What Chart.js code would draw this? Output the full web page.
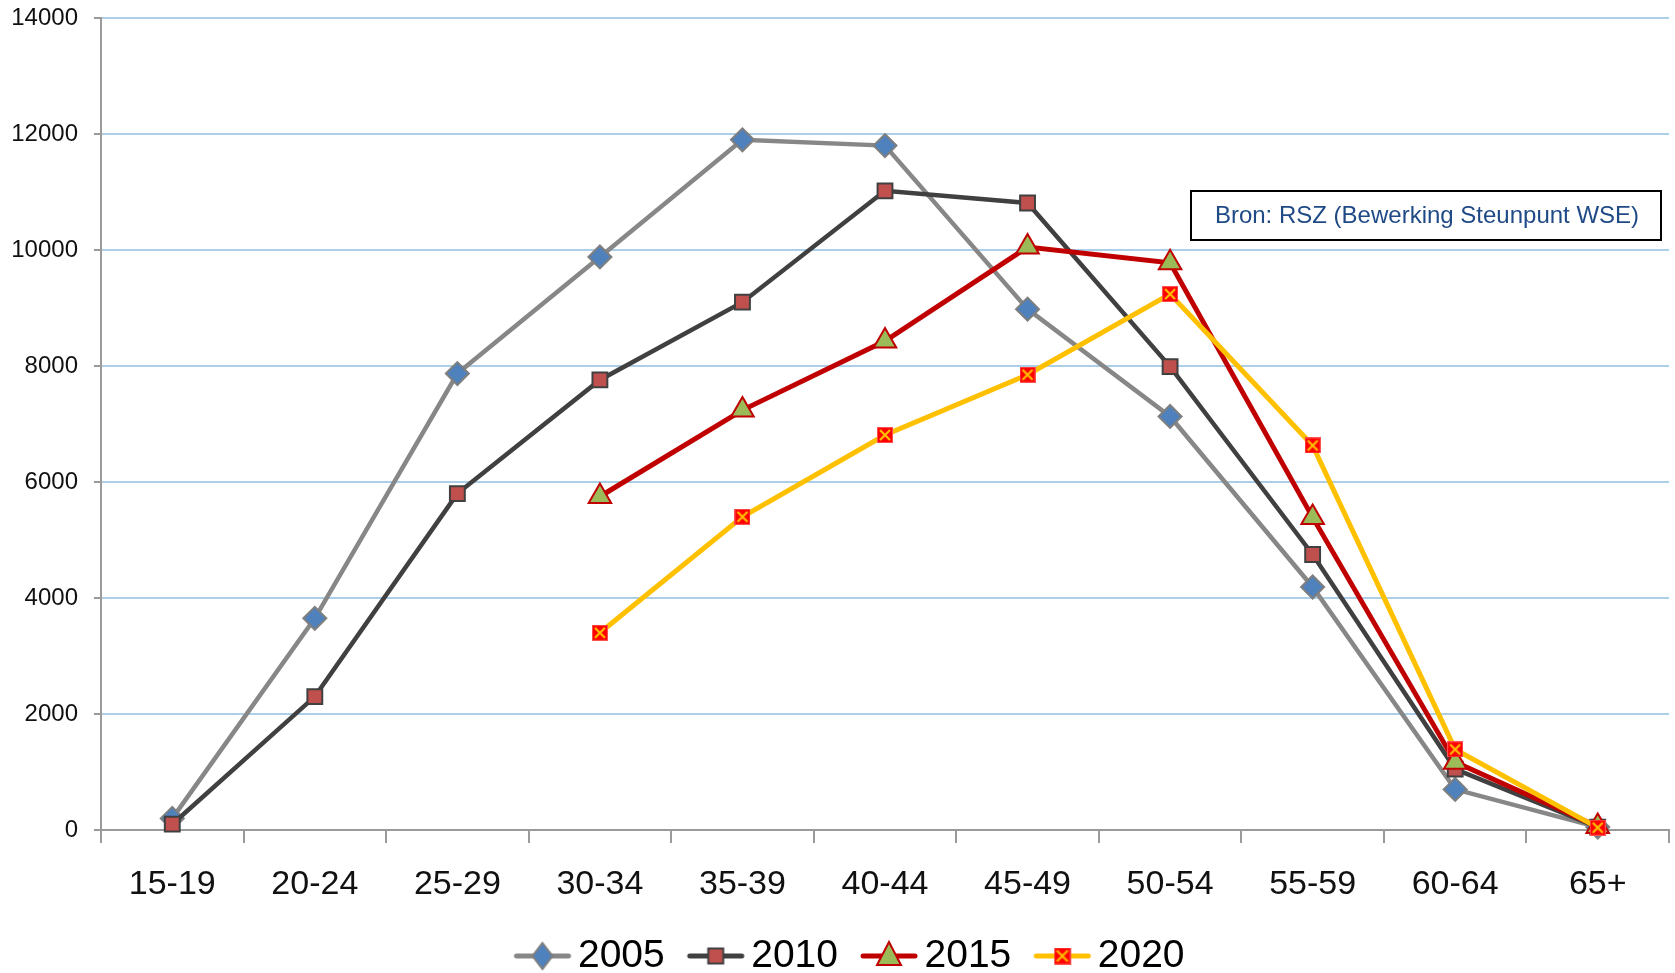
<!DOCTYPE html>
<html>
<head>
<meta charset="utf-8">
<script src="https://cdn.jsdelivr.net/npm/chart.js@4/dist/chart.umd.min.js"></script>
<style>
    body { margin: 0; background: #fff; }
    #wrap { width: 1675px; height: 973px; position: relative; }
</style>
</head>
<body>
<div id="wrap"><canvas id="leeftijdChart"></canvas></div>
<script>
// leeftijdsgroepen en waarden per jaar
const ageGroups = ['15-19', '20-24', '25-29', '30-34', '35-39', '40-44', '45-49', '50-54', '55-59', '60-64', '65+'];
const years = ['2005', '2010', '2015', '2020'];
const values2005 = [200, 3650, 7870, 9880, 11900, 11800, 8980, 7130, 4190, 700, 50];
const values2010 = [100, 2300, 5800, 7760, 9100, 11020, 10810, 7990, 4750, 1050, 50];
const values2015 = [null, null, null, 5750, 7240, 8430, 10050, 9780, 5390, 1170, 60];
const values2020 = [null, null, null, 3400, 5400, 6810, 7850, 9240, 6630, 1390, 40];
const yTicks = [0, 2000, 4000, 6000, 8000, 10000, 12000, 14000];
const bronText = 'Bron: RSZ (Bewerking Steunpunt WSE)';

const FONT = "'Liberation Sans', Arial, sans-serif";

// rood vierkantje met geel kruis (marker 2020)
function crossSquare(size) {
    const c = document.createElement('canvas');
    c.width = size; c.height = size;
    const g = c.getContext('2d');
    g.fillStyle = '#ff0000';
    g.fillRect(0, 0, size, size);
    g.strokeStyle = '#ff5050';
    g.lineWidth = 1;
    g.strokeRect(0.5, 0.5, size - 1, size - 1);
    g.strokeStyle = '#ffc000';
    g.lineWidth = 2.2;
    g.beginPath();
    g.moveTo(3, 3); g.lineTo(size - 3, size - 3);
    g.moveTo(size - 3, 3); g.lineTo(3, size - 3);
    g.stroke();
    return c;
}

function drawMarker(g, type, x, y, fill, border) {
    g.fillStyle = fill;
    g.strokeStyle = border;
    g.lineWidth = 2;
    g.beginPath();
    if (type === 'diamond') {
        g.moveTo(x, y - 13); g.lineTo(x + 10, y); g.lineTo(x, y + 13); g.lineTo(x - 10, y);
        g.closePath(); g.fill(); g.stroke();
    } else if (type === 'square') {
        g.rect(x - 7.5, y - 7.5, 15, 15); g.fill(); g.stroke();
    } else if (type === 'triangle') {
        g.moveTo(x, y - 14); g.lineTo(x + 12, y + 9); g.lineTo(x - 12, y + 9);
        g.closePath(); g.fill(); g.stroke();
    } else {
        g.drawImage(crossSquare(17), x - 8.5, y - 8.5);
    }
}

// legende-icoon: lijnstuk met marker
function legendIcon(lineColor, type, fill, border) {
    const c = document.createElement('canvas');
    c.width = 90; c.height = 36;
    const g = c.getContext('2d');
    g.strokeStyle = lineColor;
    g.lineWidth = 5;
    g.lineCap = 'round';
    g.beginPath();
    g.moveTo(34, 18); g.lineTo(86, 18);
    g.stroke();
    drawMarker(g, type, 60, 18, fill, border);
    return c;
}

const series = [
    { data: values2005, line: '#878787', width: 4.5, style: 'rectRot', radius: 11.5, fill: '#4f81bd', border: '#7f7f7f', icon: 'diamond', order: 4 },
    { data: values2010, line: '#404040', width: 4.5, style: 'rect', radius: 10.5, fill: '#c0504d', border: '#404040', icon: 'square', order: 3 },
    { data: values2015, line: '#c00000', width: 5, style: 'triangle', radius: 13, fill: '#9bbb59', border: '#c00000', icon: 'triangle', order: 2 },
    { data: values2020, line: '#ffc000', width: 5, style: crossSquare(16), radius: 8, fill: '#ff0000', border: '#ff0000', icon: 'cross', order: 1 }
];

const bronBox = {
    id: 'bronBox',
    afterDraw(chart) {
        const ctx = chart.ctx;
        ctx.save();
        ctx.fillStyle = '#fff';
        ctx.fillRect(1191, 191, 470, 49);
        ctx.strokeStyle = '#000';
        ctx.lineWidth = 2;
        ctx.strokeRect(1191, 191, 470, 49);
        ctx.fillStyle = '#1f4a86';
        ctx.font = '24px ' + FONT;
        ctx.textAlign = 'center';
        ctx.textBaseline = 'middle';
        ctx.fillText(bronText, 1427, 216);
        ctx.restore();
    }
};

const ctx = document.getElementById('leeftijdChart').getContext('2d');
new Chart(ctx, {
    type: 'line',
    data: {
        labels: ageGroups,
        datasets: series.map((s, i) => ({
            label: years[i],
            data: s.data,
            borderColor: s.line,
            borderWidth: s.width,
            tension: 0,
            pointStyle: s.style,
            pointRadius: s.radius,
            pointHoverRadius: s.radius,
            pointBackgroundColor: s.fill,
            pointBorderColor: s.border,
            pointBorderWidth: 2,
            order: s.order,
            clip: false
        }))
    },
    options: {
        responsive: true,
        maintainAspectRatio: false,
        animation: false,
        layout: { autoPadding: false, padding: { left: 12, right: 6, top: 18, bottom: -12.5 } },
        plugins: {
            tooltip: { enabled: false },
            legend: {
                position: 'bottom',
                labels: {
                    usePointStyle: true,
                    pointStyleWidth: 62,
                    padding: 5,
                    color: '#000',
                    font: { family: FONT, size: 39 },
                    generateLabels: chart => chart.data.datasets.map((d, i) => ({
                        text: d.label,
                        pointStyle: legendIcon(series[i].line, series[i].icon, series[i].fill, series[i].border),
                        datasetIndex: i,
                        hidden: !chart.isDatasetVisible(i),
                        fillStyle: series[i].fill,
                        strokeStyle: series[i].line,
                        lineWidth: 0,
                        fontColor: '#000'
                    }))
                }
            }
        },
        scales: {
            x: {
                offset: true,
                afterFit: scale => {
                    scale.height = 101.5;
                    scale.paddingLeft = 0;
                    scale.paddingRight = 0;
                },
                grid: { offset: true, drawOnChartArea: false, color: '#9a9a9a', lineWidth: 2, tickLength: 13 },
                border: { color: '#9a9a9a', width: 2 },
                ticks: { color: '#111', padding: 21, font: { family: FONT, size: 34 } }
            },
            y: {
                min: 0,
                max: 14000,
                afterFit: scale => {
                    scale.width = 89;
                    scale.paddingTop = 0;
                    scale.paddingBottom = 0;
                },
                afterBuildTicks: scale => { scale.ticks = yTicks.map(v => ({ value: v })); },
                grid: { color: '#abcfe8', lineWidth: 2, tickColor: '#9a9a9a', tickLength: 7, tickWidth: 2 },
                border: { color: '#9a9a9a', width: 2 },
                ticks: { color: '#111', padding: 16, font: { family: FONT, size: 24 }, callback: v => String(v) }
            }
        }
    },
    plugins: [bronBox]
});
</script>
</body>
</html>
